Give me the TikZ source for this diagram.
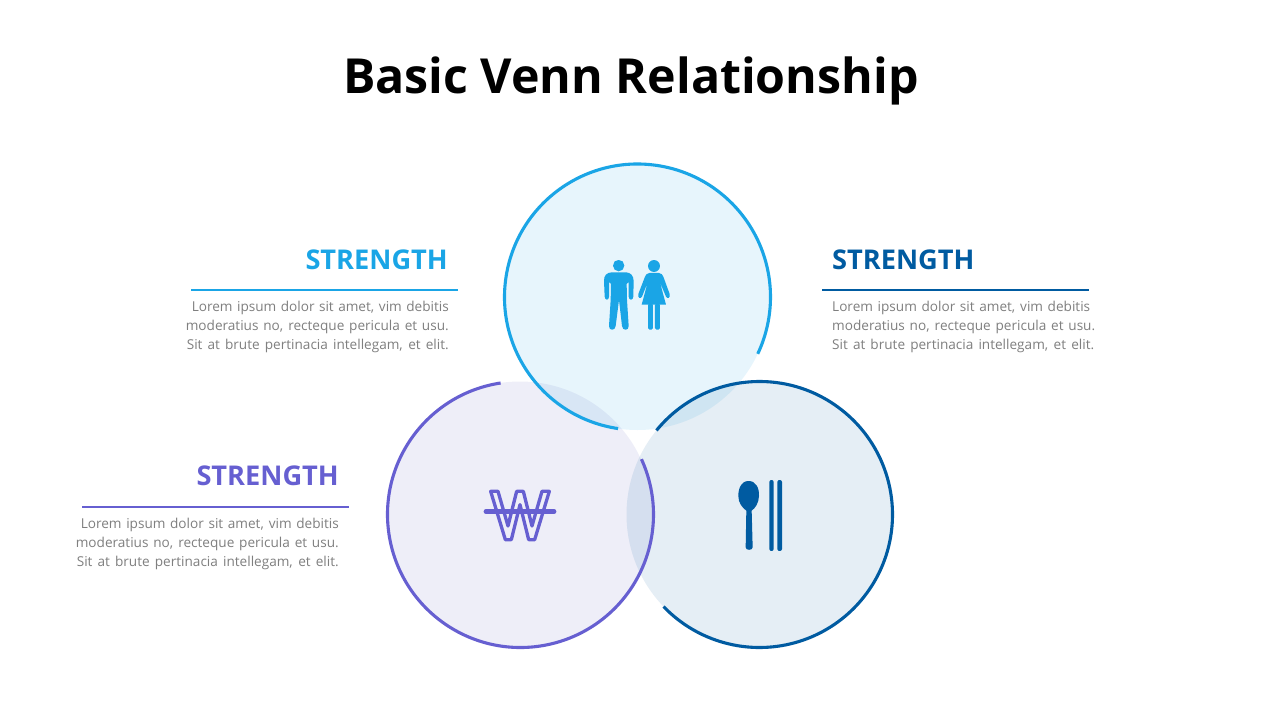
\documentclass[tikz,border=0pt]{standalone}
\usepackage{fontspec}
\setmainfont{Open Sans}
\definecolor{cblue}{HTML}{1AA5E6}
\definecolor{cnavy}{HTML}{005BA1}
\definecolor{cpurple}{HTML}{665FD1}
\definecolor{cpurplefill}{HTML}{5A62C0}
\definecolor{cgray}{HTML}{7F7F7F}
\tikzset{
  disc/.style={fill opacity=0.10},
  ring/.style={line width=3.1pt},
  heading/.style={font=\fontsize{27.2}{30}\selectfont\bfseries,inner sep=0pt},
  rulel/.style={line width=2pt},
  bodyl/.style={font=\fontsize{13.6}{16}\selectfont,text=cgray,inner sep=0pt},
  title/.style={font=\fontsize{48.3}{56}\selectfont\bfseries,inner sep=0pt},
}
\newcommand{\ls}[2]{\makebox[#1pt][s]{#2}}
\begin{document}
\begin{tikzpicture}[x=1pt,y=-1pt]
\useasboundingbox (0,0) rectangle (1280,720);
\fill[white] (0,0) rectangle (1280,720);
\node[title,anchor=base] (t) at (631,93) {Basic Venn Relationship};
% discs
\fill[cblue,disc] (637.5,297) circle (133);
\fill[cpurplefill,disc] (520,514.5) circle (133);
\fill[cnavy,disc] (759.5,514.5) circle (133);
% rings
\draw[cblue,ring] (637.5,297) ++(-261.6:133) arc[start angle=-261.6,end angle=25.3,radius=133];
\draw[cpurple,ring] (520.5,514.5) ++(-98.6:133) arc[start angle=-98.6,end angle=-384.6,radius=133];
\draw[cnavy,ring] (759.5,514.5) ++(-140.8:133) arc[start angle=-140.8,end angle=136.2,radius=133];
% left heading
\node[heading,text=cblue,anchor=base east] (h1) at (448,269) {STRENGTH};
\coordinate (r1a) at (191,290); \coordinate (r1b) at (458,290);
\draw[cblue,rulel] (r1a) -- (r1b);
\node[bodyl,anchor=base east] (b11) at (449,311) {\ls{257}{Lorem ipsum dolor sit amet, vim debitis}};
\node[bodyl,anchor=base east] (b12) at (449,330) {\ls{263}{moderatius no, recteque pericula et usu.}};
\node[bodyl,anchor=base east] (b13) at (449,349) {\ls{262}{Sit at brute pertinacia intellegam, et elit.}};
% right heading
\node[heading,text=cnavy,anchor=base west] (h2) at (832,269) {STRENGTH};
\coordinate (r2a) at (822,290); \coordinate (r2b) at (1089,290);
\draw[cnavy,rulel] (r2a) -- (r2b);
\node[bodyl,anchor=base west] (b21) at (832,311) {\ls{258}{Lorem ipsum dolor sit amet, vim debitis}};
\node[bodyl,anchor=base west] (b22) at (832,330) {\ls{263}{moderatius no, recteque pericula et usu.}};
\node[bodyl,anchor=base west] (b23) at (832,349) {\ls{262}{Sit at brute pertinacia intellegam, et elit.}};
% purple heading
\node[heading,text=cpurple,anchor=base east] (h3) at (339,485) {STRENGTH};
\coordinate (r3a) at (82,507); \coordinate (r3b) at (349,507);
\draw[cpurple,rulel] (r3a) -- (r3b);
\node[bodyl,anchor=base east] (b31) at (339,528) {\ls{258}{Lorem ipsum dolor sit amet, vim debitis}};
\node[bodyl,anchor=base east] (b32) at (339,547) {\ls{263}{moderatius no, recteque pericula et usu.}};
\node[bodyl,anchor=base east] (b33) at (339,566) {\ls{262}{Sit at brute pertinacia intellegam, et elit.}};
% people icon
\begin{scope}[shift={(580,240)},x=0.3333pt,y=-0.3333pt]
\fill[cblue] (116,60) -- (128,64) -- (133,77) -- (128,89) -- (116,94) -- (104,89) -- (99,77) -- (104,64) -- cycle;
\fill[cblue] (95,97) -- (138,97) .. controls (152,98) and (160,106) .. (161,122) -- (160,170)
  .. controls (160,182) and (146,182) .. (146,170) -- (146,126) -- (140,132) -- (141,180) -- (146,258)
  .. controls (147,273) and (127,273) .. (126,258) -- (117,180) -- (107,258)
  .. controls (106,273) and (86,273) .. (87,258) -- (92,180) -- (93,132) -- (87,126) -- (87,170)
  .. controls (87,182) and (75,182) .. (74,170) -- (72,122) .. controls (72,106) and (80,98) .. (95,97) -- cycle;
\fill[cblue] (222,78) circle (18);
\fill[cblue] (208,99) -- (237,99) .. controls (244,100) and (248,104) .. (250,110) -- (269,162)
  .. controls (272,174) and (262,178) .. (258,170) -- (240,127) -- (258,194) -- (185,194) -- (203,127) -- (186,170)
  .. controls (182,178) and (172,174) .. (175,162) -- (195,110) .. controls (197,104) and (201,100) .. (208,99) -- cycle;
\fill[cblue,rounded corners=1.5pt] (204,190) rectangle (219,269);
\fill[cblue,rounded corners=1.5pt] (225,190) rectangle (240,269);
\end{scope}
% won icon
\begin{scope}[shift={(470,470)},x=0.3333pt,y=-0.3333pt]
\draw[cpurple,line width=3.3pt,line join=round] (62,64) -- (84,64) -- (114,168) -- (140,64) -- (160,64) -- (186,168) -- (216,64) -- (238,64) -- (194,209) -- (176,209) -- (150,104) -- (124,209) -- (106,209) -- cycle;
\draw[cpurple,line width=4.8pt,line cap=round] (48,125) -- (252,125);
\end{scope}
% spoon icon
\begin{scope}[shift={(720,470)},x=0.3333pt,y=-0.3333pt]
\fill[cnavy] (86,33) .. controls (108,33) and (118,54) .. (117,78) .. controls (116,100) and (106,114) .. (95,122)
  -- (98,232) .. controls (98,242) and (77,242) .. (77,232) -- (79,122)
  .. controls (68,114) and (55,100) .. (55,78) .. controls (55,54) and (64,33) .. (86,33) -- cycle;
\fill[cnavy,rounded corners=2pt] (148,30) rectangle (161,243);
\fill[cnavy,rounded corners=2pt] (172,30) rectangle (186,243);
\end{scope}
\end{tikzpicture}
\end{document}
